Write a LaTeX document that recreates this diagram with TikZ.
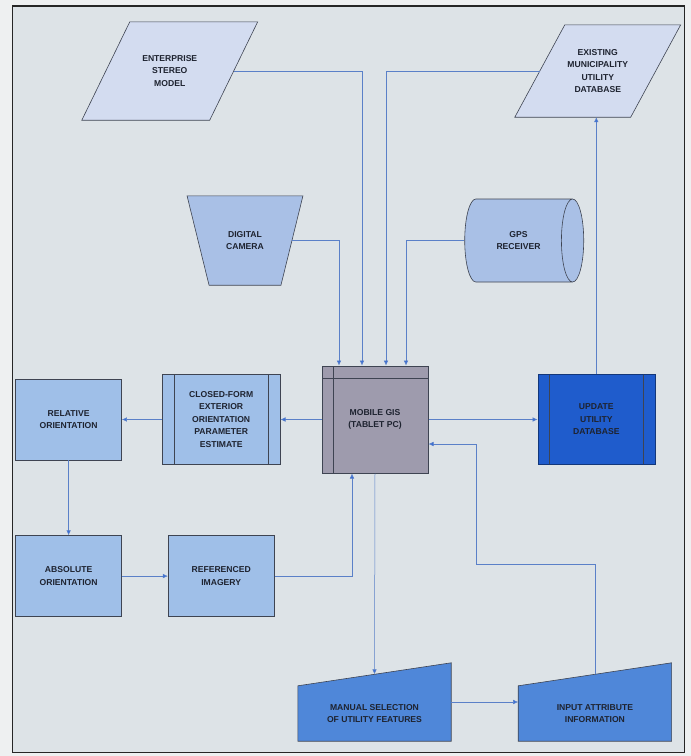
\documentclass[tikz,border=0pt]{standalone}
\usepackage{fontspec}
\setmainfont{Liberation Sans}
\usetikzlibrary{shapes.geometric,arrows.meta,positioning,calc}
\pgfdeclarelayer{bg}
\pgfsetlayers{bg,main}
\definecolor{paper}{HTML}{EEF0F1}
\definecolor{sheet}{HTML}{DDE3E7}
\definecolor{ink}{HTML}{1E2330}
\definecolor{edge}{HTML}{3E4452}
\definecolor{wire}{HTML}{5A80C8}
\definecolor{tip}{HTML}{3A6FD6}
\definecolor{iofill}{HTML}{D3DCF0}
\definecolor{devfill}{HTML}{A9C0E6}
\definecolor{stepfill}{HTML}{9FBFE8}
\definecolor{gisfill}{HTML}{9E9BAD}
\definecolor{updfill}{HTML}{1F5CCC}
\definecolor{manfill}{HTML}{4F87D9}

\begin{document}
\begin{tikzpicture}[x=1pt, y=-1pt,
    every node/.style={font=\fontsize{8.6}{12.5}\selectfont\bfseries, text=ink, align=center, inner sep=0pt},
    outline/.style={draw=edge, line width=0.6pt},
    box/.style={outline, fill=stepfill, minimum width=106pt, minimum height=81pt},
    proc/.style={box, path picture={
        \draw[outline] ([xshift=#1]path picture bounding box.north west) -- ([xshift=#1]path picture bounding box.south west);
        \draw[outline] ([xshift=-#1]path picture bounding box.north east) -- ([xshift=-#1]path picture bounding box.south east);}},
    manin/.style={minimum width=153pt, minimum height=55pt},
    flow/.style={draw=wire, line width=0.5pt, -{Latex[length=5pt,width=4.5pt,fill=tip]}},
  ]
  \useasboundingbox (0,0) rectangle (691,756);
  \begin{pgfonlayer}{bg}
    \fill[paper] (0,0) rectangle (691,756);
    \filldraw[fill=sheet, draw=black!85, line width=1.5pt] (12.5,6) rectangle (684.5,752.5);
  \end{pgfonlayer}

  % inputs
  \node[minimum width=127.5pt, minimum height=98pt] (stereo) at (169.75,71) {ENTERPRISE\\STEREO\\MODEL};
  \node[minimum width=115.5pt, minimum height=92pt] (existing) at (597.75,71) {EXISTING\\MUNICIPALITY\\UTILITY\\DATABASE};
  \node[minimum width=93.5pt, minimum height=89pt] (camera) at (245,240.5) {DIGITAL\\CAMERA};
  \node[cylinder, shape aspect=1.2, outline, fill=devfill,
        minimum width=83pt, minimum height=119pt] (gps) at (518.5,240.5) {GPS\\RECEIVER};

  % tablet
  \node[box, fill=gisfill, line width=1pt, minimum width=106pt, minimum height=107pt,
        path picture={
          \draw[edge, line width=0.8pt] ([yshift=-12pt]path picture bounding box.north west) -- ([yshift=-12pt]path picture bounding box.north east);
          \draw[edge, line width=0.8pt] ([xshift=11pt]path picture bounding box.north west) -- ([xshift=11pt]path picture bounding box.south west);}]
        (mobile) at (375,419.5) {MOBILE GIS\\(TABLET PC)};

  % orientation chain
  \node[proc=12pt, minimum width=118pt, minimum height=90pt, left=41pt of mobile] (closed)
        {CLOSED-FORM\\EXTERIOR\\ORIENTATION\\PARAMETER\\ESTIMATE};
  \node[box, left=40pt of closed] (relative) {RELATIVE\\ORIENTATION};
  \node[box, below=75pt of relative] (absolute) {ABSOLUTE\\ORIENTATION};
  \node[box, right=46pt of absolute] (imagery) {REFERENCED\\IMAGERY};

  \node[proc=11.5pt, fill=updfill, draw=updfill!60!black, minimum width=117pt, minimum height=90pt,
        right=109pt of mobile] (update) {UPDATE\\UTILITY\\DATABASE};

  % manual input shapes
  \node[manin] (manual) at (374.5,713.5) {MANUAL SELECTION\\OF UTILITY FEATURES};
  \node[manin, right=67pt of manual] (attrib) {INPUT ATTRIBUTE\\INFORMATION};

  % slanted outlines behind the texts
  \begin{pgfonlayer}{bg}
    \filldraw[outline, fill=iofill] ([xshift=-24pt]stereo.south west) -- ([xshift=-24pt]stereo.south east)
        -- ([xshift=24pt]stereo.north east) -- ([xshift=24pt]stereo.north west) -- cycle;
    \filldraw[outline, fill=iofill] ([xshift=-25pt]existing.south west) -- ([xshift=-25pt]existing.south east)
        -- ([xshift=25pt]existing.north east) -- ([xshift=25pt]existing.north west) -- cycle;
    \filldraw[outline, fill=devfill] ([xshift=11pt]camera.south west) -- ([xshift=-11pt]camera.south east)
        -- ([xshift=11pt]camera.north east) -- ([xshift=-11pt]camera.north west) -- cycle;
    \foreach \m in {manual,attrib}{
      \filldraw[outline, fill=manfill] (\m.south west) -- (\m.south east) -- ([yshift=23pt]\m.north east)
          -- (\m.north west) -- cycle;
    }
  \end{pgfonlayer}
  \foreach \m in {manual,attrib}
    \coordinate (\m-top) at ($(\m.north west)!0.5!([yshift=23pt]\m.north east)$);
  \coordinate (bend) at (476,564);

  % connectors
  \draw[flow] (camera.east) -| ([xshift=-36pt]mobile.north);
  \draw[flow] (stereo.east) -| ([xshift=-13pt]mobile.north);
  \draw[flow] (existing.west) -| ([xshift=11pt]mobile.north);
  \draw[flow] (gps.west) -| ([xshift=31pt]mobile.north);
  \draw[flow] (mobile.east) -- (update.west);
  \draw[flow] (update.north) -- (update.north |- existing.south);
  \draw[flow] (mobile.west) -- (closed.east);
  \draw[flow] (closed.west) -- (relative.east);
  \draw[flow] (relative.south) -- (absolute.north);
  \draw[flow] (absolute.east) -- (imagery.west);
  \draw[flow] (imagery.east) -| ([xshift=-23pt]mobile.south);
  \draw[flow] (mobile.south) -- (manual-top);
  \draw[flow] ([yshift=11.5pt]manual.east) -- ([yshift=11.5pt]attrib.west);
  \draw[flow] (attrib-top) |- (bend) |- ([yshift=-24.5pt]mobile.east);
\end{tikzpicture}
\end{document}
